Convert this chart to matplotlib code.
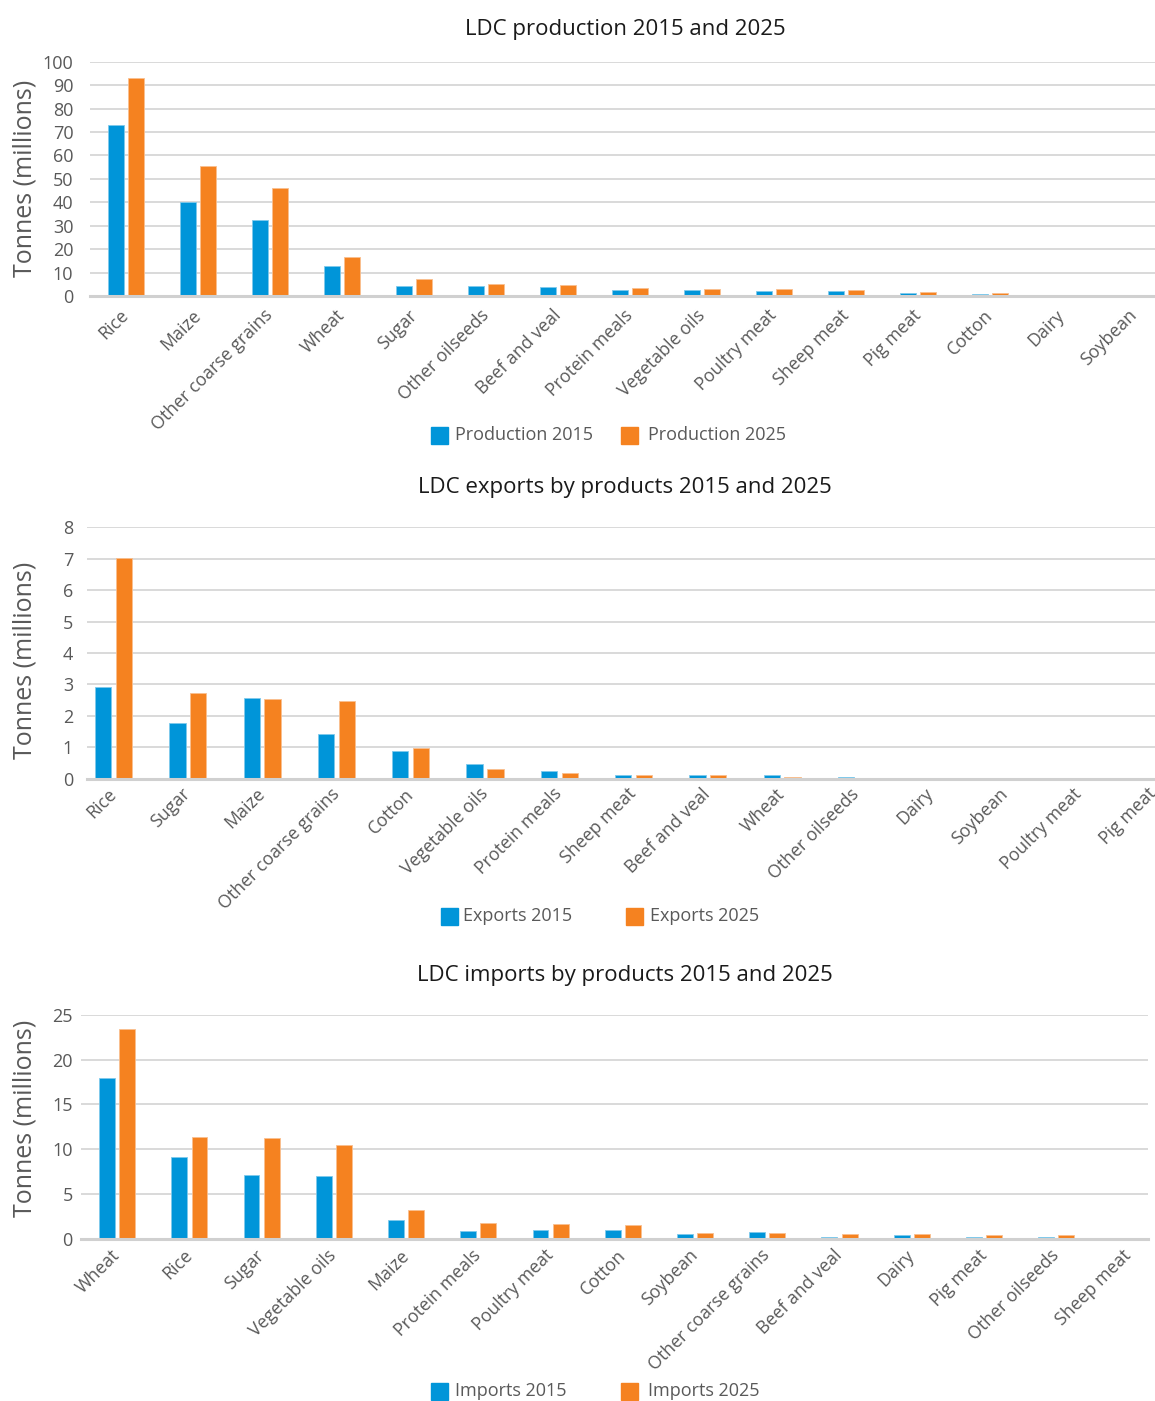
import matplotlib
matplotlib.use("Agg")
import matplotlib.pyplot as plt
import matplotlib.patches as mpatches
import numpy as np

plt.rcParams['font.family'] = ['Open Sans', 'DejaVu Sans']

BLUE = '#0095d9'
ORANGE = '#f58220'
GRID = '#d9d9d9'
TICK = '#595959'

# Production (million tonnes)
prod_items = ['Rice', 'Maize', 'Other coarse grains', 'Wheat', 'Sugar', 'Other oilseeds',
              'Beef and veal', 'Protein meals', 'Vegetable oils', 'Poultry meat',
              'Sheep meat', 'Pig meat', 'Cotton', 'Dairy', 'Soybean']
prod_2015 = [73.1, 40.0, 32.4, 12.7, 4.3, 4.3, 3.7, 2.6, 2.6, 2.3, 2.0, 1.3, 0.9, 0.4, 0.4]
prod_2025 = [92.9, 55.3, 46.0, 16.5, 7.3, 5.1, 4.5, 3.3, 3.0, 2.9, 2.6, 1.7, 1.1, 0.6, 0.4]

# Exports (million tonnes)
exp_items = ['Rice', 'Sugar', 'Maize', 'Other coarse grains', 'Cotton', 'Vegetable oils',
             'Protein meals', 'Sheep meat', 'Beef and veal', 'Wheat', 'Other oilseeds',
             'Dairy', 'Soybean', 'Poultry meat', 'Pig meat']
exp_2015 = [2.93, 1.76, 2.56, 1.42, 0.87, 0.46, 0.24, 0.13, 0.12, 0.12, 0.06, 0.01, 0.005, 0.005, 0.005]
exp_2025 = [7.01, 2.72, 2.54, 2.46, 0.99, 0.31, 0.17, 0.13, 0.12, 0.06, 0.02, 0.01, 0.005, 0.005, 0.005]

# Imports (million tonnes)
imp_items = ['Wheat', 'Rice', 'Sugar', 'Vegetable oils', 'Maize', 'Protein meals',
             'Poultry meat', 'Cotton', 'Soybean', 'Other coarse grains', 'Beef and veal',
             'Dairy', 'Pig meat', 'Other oilseeds', 'Sheep meat']
imp_2015 = [18.0, 9.1, 7.1, 7.0, 2.1, 0.86, 0.97, 1.0, 0.56, 0.75, 0.19, 0.37, 0.15, 0.22, 0.05]
imp_2025 = [23.4, 11.4, 11.2, 10.5, 3.2, 1.75, 1.64, 1.56, 0.63, 0.63, 0.52, 0.52, 0.45, 0.37, 0.05]

W, H = 1155, 1401
fig = plt.figure(figsize=(W / 100, H / 100), dpi=100)


def px_axes(left, right, top, bottom):
    return fig.add_axes([left / W, 1 - bottom / H, (right - left) / W, (bottom - top) / H])


def bar_panel(ax, items, v15, v25, ymax, step, xlim, pad, xpad):
    x = np.arange(len(items))
    ax.bar(x - 0.14, v15, width=0.22, color=BLUE, edgecolor='#7fcaec', linewidth=0.6, zorder=3)
    ax.bar(x + 0.14, v25, width=0.22, color=ORANGE, edgecolor='#f9bf8f', linewidth=0.6, zorder=3)
    ax.set_xlim(*xlim)
    ax.set_ylim(0, ymax)
    ax.set_yticks(np.arange(0, ymax + step / 2, step))
    ax.yaxis.grid(True, color=GRID, linewidth=1.4, zorder=0)
    ax.set_axisbelow(True)
    for s in ['top', 'right', 'left']:
        ax.spines[s].set_visible(False)
    ax.spines['bottom'].set_color('#d0d0d0')
    ax.spines['bottom'].set_linewidth(2.2)
    ax.spines['bottom'].set_zorder(4)
    ax.set_xticks(x)
    ax.set_xticklabels(items, rotation=45, ha='right', va='center',
                       rotation_mode='anchor', color=TICK, fontsize=12.8)
    ax.tick_params(axis='x', length=0, pad=xpad)
    ax.tick_params(axis='y', length=0, pad=pad, labelcolor=TICK, labelsize=13)


def legend_row(y, labels, xs):
    for lab, col, (xb, xt) in zip(labels, [BLUE, ORANGE], xs):
        fig.patches.append(mpatches.Rectangle((xb / W, 1 - (y + 9) / H), 17 / W, 17 / H,
                                              transform=fig.transFigure, color=col))
        fig.text(xt / W, 1 - y / H, lab, ha='left', va='center', fontsize=13, color=TICK)


# Production
ax1 = px_axes(90, 1155, 61.7, 296)
bar_panel(ax1, prod_items, prod_2015, prod_2025, 100, 10, (-0.5, 14.29), 12, 12)
fig.text(625 / W, 1 - 30 / H, 'LDC production 2015 and 2025', ha='center', va='center',
         fontsize=16, color='#1a1a1a')
fig.text(25 / W, 1 - 178 / H, 'Tonnes (millions)', rotation=90, ha='center', va='center',
         fontsize=18, color=TICK)
legend_row(435, ['Production 2015', 'Production 2025'], [(431, 455), (621, 648)])

# Exports
ax2 = px_axes(87, 1155, 527.3, 778.7)
bar_panel(ax2, exp_items, exp_2015, exp_2025, 8, 1, (-0.358, 14.02), 10, 9)
fig.text(625 / W, 1 - 487 / H, 'LDC exports by products 2015 and 2025', ha='center', va='center',
         fontsize=16, color='#1a1a1a')
fig.text(25 / W, 1 - 660 / H, 'Tonnes (millions)', rotation=90, ha='center', va='center',
         fontsize=18, color=TICK)
legend_row(916, ['Exports 2015', 'Exports 2025'], [(441, 463), (626, 650)])

# Imports
ax3 = px_axes(81, 1148, 1015, 1238.7)
bar_panel(ax3, imp_items, imp_2015, imp_2025, 25, 5, (-0.5, 14.27), 6, 10)
fig.text(625 / W, 1 - 976 / H, 'LDC imports by products 2015 and 2025', ha='center', va='center',
         fontsize=16, color='#1a1a1a')
fig.text(25 / W, 1 - 1118 / H, 'Tonnes (millions)', rotation=90, ha='center', va='center',
         fontsize=18, color=TICK)
legend_row(1391, ['Imports 2015', 'Imports 2025'], [(431, 455), (621, 648)])

fig.savefig('out.png', dpi=100, facecolor='white')
